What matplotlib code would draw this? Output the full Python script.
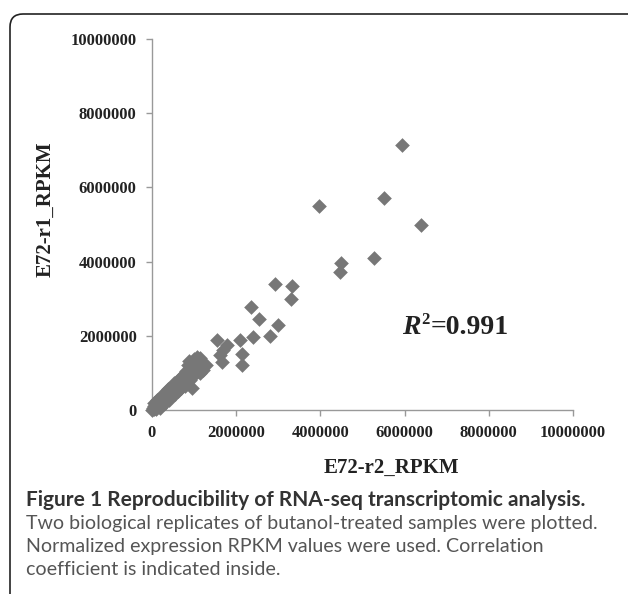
import numpy as np
import matplotlib.pyplot as plt
from matplotlib.patches import FancyBboxPatch
from matplotlib.transforms import IdentityTransform

# E72-r2 (x) and E72-r1 (y) RPKM, in millions
r2_big = [5.95, 3.97, 5.50, 6.38, 5.27, 4.49, 4.46, 2.92, 3.33, 3.30, 2.35, 2.54, 2.99,
          2.40, 2.80, 1.54, 2.09, 1.78, 1.69, 1.62, 2.14, 2.14, 1.66, 1.14, 0.97, 1.29,
          1.14, 0.95, 1.07, 1.20]
r1_big = [7.14, 5.50, 5.72, 4.99, 4.11, 3.96, 3.72, 3.40, 3.34, 2.99, 2.78, 2.45, 2.29,
          1.97, 1.99, 1.89, 1.89, 1.75, 1.62, 1.48, 1.51, 1.21, 1.29, 1.40, 1.29, 1.20,
          1.00, 0.59, 1.42, 1.08]

r2_small = [0.00, 0.02, 0.04, 0.05, 0.07, 0.09, 0.10, 0.12, 0.15, 0.15, 0.18, 0.20, 0.22,
            0.25, 0.27, 0.30, 0.30, 0.33, 0.35, 0.38, 0.40, 0.42, 0.45, 0.48, 0.50, 0.50,
            0.53, 0.55, 0.58, 0.60, 0.62, 0.65, 0.65, 0.68, 0.70, 0.72, 0.75, 0.75, 0.78,
            0.80, 0.82, 0.85, 0.85, 0.88, 0.90, 0.92, 0.95, 1.00, 1.02, 0.60, 0.70, 0.90,
            0.05, 0.12, 0.20, 0.28, 0.35, 0.25, 0.40, 0.45, 0.55, 0.62, 0.70, 0.78, 0.85,
            0.95, 1.05, 0.38, 0.52, 0.66, 0.80, 0.98, 1.10, 0.18, 0.32]
r1_small = [0.00, 0.05, 0.02, 0.10, 0.06, 0.14, 0.04, 0.16, 0.10, 0.22, 0.15, 0.26, 0.18,
            0.30, 0.22, 0.36, 0.26, 0.30, 0.45, 0.34, 0.48, 0.38, 0.55, 0.44, 0.60, 0.50,
            0.48, 0.66, 0.55, 0.72, 0.58, 0.80, 0.62, 0.70, 0.88, 0.66, 0.95, 0.78, 0.72,
            1.05, 0.86, 1.20, 0.95, 1.32, 1.12, 1.00, 1.30, 1.38, 1.10, 0.62, 0.74, 0.82,
            0.18, 0.28, 0.36, 0.44, 0.55, 0.16, 0.28, 0.36, 0.42, 0.50, 0.58, 0.65, 0.80,
            0.90, 1.28, 0.56, 0.72, 0.86, 0.96, 1.16, 1.30, 0.06, 0.18]

ticks = [0, 2000000, 4000000, 6000000, 8000000, 10000000]
tick_labels = ["0", "2000000", "4000000", "6000000", "8000000", "10000000"]

x = np.array(r2_big + r2_small) * 1e6
y = np.array(r1_big + r1_small) * 1e6

fig = plt.figure(figsize=(6.28, 5.94), dpi=100)
ax = fig.add_axes([152 / 628, 1 - 410 / 594, 421 / 628, 371 / 594])

ax.scatter(x, y, marker="D", s=56, color="#777777", linewidths=0, clip_on=False, zorder=3)

ax.set_xlim(0, 10000000)
ax.set_ylim(0, 10000000)
ax.set_xticks(ticks)
ax.set_yticks(ticks)
ax.set_xticklabels(tick_labels)
ax.set_yticklabels(tick_labels)
for lab in ax.get_xticklabels() + ax.get_yticklabels():
    lab.set_fontfamily("Liberation Serif")
    lab.set_fontweight("bold")
    lab.set_fontsize(12)
    lab.set_color("#222222")
ax.tick_params(direction="out", length=4, width=1, color="#999999", pad=7)
for s in ["top", "right"]:
    ax.spines[s].set_visible(False)
for s in ["left", "bottom"]:
    ax.spines[s].set_color("#999999")
    ax.spines[s].set_linewidth(1)

ax.set_xlabel("E72-r2_RPKM", fontfamily="Liberation Serif", fontweight="bold", fontsize=15, color="#222222")
ax.set_ylabel("E72-r1_RPKM", fontfamily="Liberation Serif", fontweight="bold", fontsize=15, color="#222222")
ax.xaxis.set_label_coords((391 - 152) / 421, -(468 - 410) / 371)
ax.yaxis.set_label_coords(-(152 - 46) / 421, (410 - 209) / 371)
ax.xaxis.label.set_va("center")
ax.yaxis.label.set_va("center")

# R^2 annotation: italic R, small raised 2, then the value
ry = 1 - 340 / 594
t1 = fig.text(402 / 628, ry, "R", fontfamily="Liberation Serif", fontweight="bold",
              fontstyle="italic", fontsize=20, color="#222222", va="bottom")
ax.annotate("2", xy=(1, 0), xycoords=t1, xytext=(0.5, 9), textcoords="offset points",
            fontfamily="Liberation Serif", fontweight="bold", fontsize=12,
            color="#222222", va="bottom", annotation_clip=False)
ax.annotate("=0.991", xy=(1, 0), xycoords=t1, xytext=(7, 0), textcoords="offset points",
            fontfamily="Liberation Serif", fontweight="bold", fontsize=20,
            color="#222222", va="bottom", annotation_clip=False)

# caption
fig.text(26 / 628, 1 - 506 / 594, "Figure 1 Reproducibility of RNA-seq transcriptomic analysis.",
         fontfamily="Lato", fontweight="bold", fontsize=15, color="#333333", va="baseline")
cap = ["Two biological replicates of butanol-treated samples were plotted.",
       "Normalized expression RPKM values were used. Correlation",
       "coefficient is indicated inside."]
for i, line in enumerate(cap):
    fig.text(26 / 628, 1 - (529 + 23 * i) / 594, line, fontfamily="Lato", fontweight="normal",
             fontsize=14.1, color="#555555", va="baseline")

box = FancyBboxPatch((10, -20), 660, 600, boxstyle="round,pad=0,rounding_size=13",
                     transform=IdentityTransform(), fill=False, edgecolor="#222222", linewidth=1.2)
fig.patches.append(box)

fig.savefig("out.png", dpi=100)
